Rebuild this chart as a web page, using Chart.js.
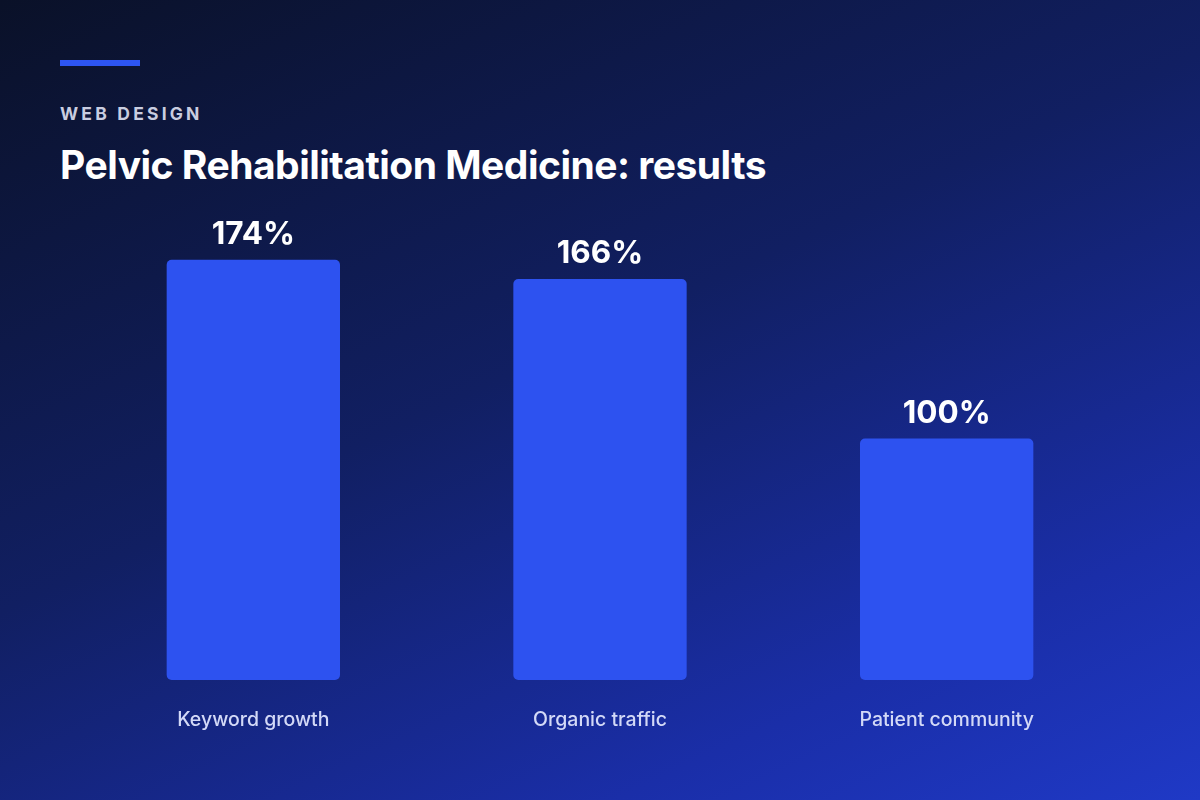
<!DOCTYPE html>
<html>
<head>
<meta charset="utf-8">
<script src="https://cdn.jsdelivr.net/npm/chart.js@4"></script>
<style>
  html, body { margin: 0; padding: 0; }
  body {
    width: 1200px; height: 800px; overflow: hidden; position: relative;
    background: linear-gradient(155deg, #0a1128 0%, #111f62 45%, #1a2ea8 80%, #1f39c6 100%);
    font-family: Inter, "Noto Sans", sans-serif;
  }
  .accent { position: absolute; left: 60px; top: 60px; width: 80px; height: 6px; background: #2d55f2; }
  .kicker { position: absolute; left: 60px; top: 103px; font-size: 17.5px; font-weight: 700; letter-spacing: 3.2px; color: #c9cde0; }
  h1 { position: absolute; left: 60px; top: 141px; margin: 0; font-size: 39px; font-weight: 700; color: #ffffff; letter-spacing: -0.5px; }
  #chart_wrap { position: absolute; left: 0; top: 0; width: 1200px; height: 800px; }
</style>
</head>
<body>
<div class="accent"></div>
<div class="kicker">WEB DESIGN</div>
<h1>Pelvic Rehabilitation Medicine: results</h1>
<div id="chart_wrap"><canvas id="chart_results"></canvas></div>
<script>
var result_labels = ['Keyword growth', 'Organic traffic', 'Patient community'];
var result_values = [174, 166, 100];
var value_suffix = '%';

// etichete: valoarea deasupra barei, categoria sub axa
var barLabelsPlugin = {
    id: 'barLabels',
    afterDatasetsDraw: function (chart) {
        var ctx = chart.ctx;
        var meta = chart.getDatasetMeta(0);
        var xScale = chart.scales.x;
        ctx.save();
        ctx.textAlign = 'center';
        meta.data.forEach(function (bar, i) {
            ctx.fillStyle = '#ffffff';
            ctx.font = '700 31.5px Inter, "Noto Sans", sans-serif';
            ctx.textBaseline = 'alphabetic';
            ctx.fillText(result_values[i] + value_suffix, bar.x, bar.y - 16);
            ctx.fillStyle = '#d3d9f7';
            ctx.font = '500 19.5px Inter, "Noto Sans", sans-serif';
            ctx.textBaseline = 'middle';
            ctx.fillText(result_labels[i], xScale.getPixelForValue(i), chart.chartArea.bottom + 40);
        });
        ctx.restore();
    }
};

var results_ctx = document.getElementById('chart_results').getContext('2d');
var results_chart = new Chart(results_ctx, {
    type: 'bar',
    data: {
        labels: result_labels,
        datasets: [{
            data: result_values,
            backgroundColor: '#2d52f0',
            borderWidth: 0,
            borderRadius: 5,
            borderSkipped: false,
            barPercentage: 0.5,
            categoryPercentage: 1
        }]
    },
    options: {
        responsive: true,
        maintainAspectRatio: false,
        animation: false,
        layout: { padding: { left: 80, right: 80, top: 197, bottom: 120 } },
        plugins: { legend: { display: false }, tooltip: { enabled: false } },
        scales: {
            x: { display: false },
            y: { display: false, min: 0, max: 200 }
        }
    },
    plugins: [barLabelsPlugin]
});
</script>
</body>
</html>
